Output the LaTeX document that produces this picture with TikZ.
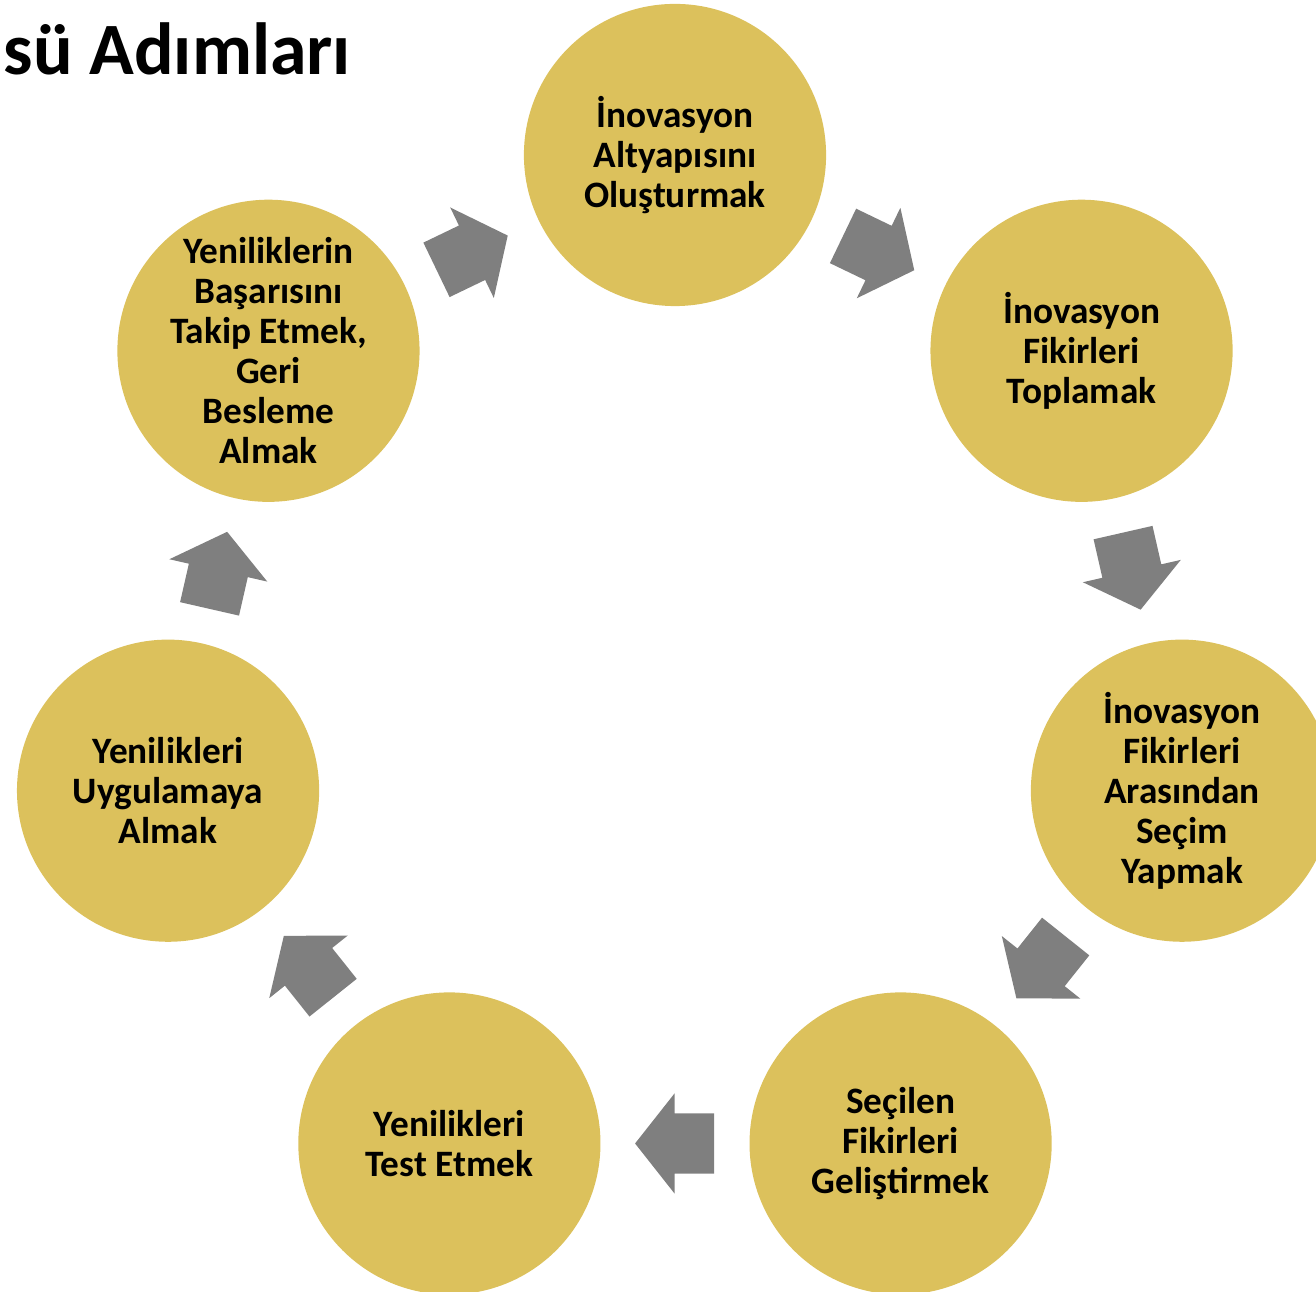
\documentclass[tikz,border=0pt]{standalone}
\usepackage{fontspec}
\setmainfont{Carlito}
\usetikzlibrary{shapes.arrows,calc}
\definecolor{stepgold}{HTML}{DCC15C}
\definecolor{arrowgray}{HTML}{7F7F7F}
\begin{document}
\begin{tikzpicture}[x=0.01cm,y=0.01cm,
		stepcircle/.style={circle,fill=stepgold,minimum size=3.02cm,inner sep=0pt,align=center,font=\bfseries\fontsize{10.6}{11.4}\selectfont},
		steparrow/.style={single arrow,fill=arrowgray,minimum height=0.79cm,inner xsep=0pt,inner ysep=0.295cm,single arrow head extend=0.2cm,single arrow tip angle=103.5}]
		\clip (-675,-617) rectangle (641,675);
		\node[anchor=base west,inner sep=0pt,font=\bfseries\fontsize{21}{25}\selectfont] (title) at (-672,600) {sü Adımları};
		\foreach \txt[count=\i] in {{İnovasyon\\Altyapısını\\Oluşturmak}, {İnovasyon\\Fikirleri\\Toplamak}, {İnovasyon\\Fikirleri\\Arasından\\Seçim\\Yapmak}, {Seçilen\\Fikirleri\\Geliştirmek}, {Yenilikleri\\Test Etmek}, {Yenilikleri\\Uygulamaya\\Almak}, {Yeniliklerin\\Başarısını\\Takip Etmek,\\Geri\\Besleme\\Almak}}{
		\node[stepcircle] (s-\i) at ({90-(\i-1)*360/7}:520) {\txt};
		}
		\foreach \i[evaluate=\i as \j using {int(mod(\i,7)+1)}] in {1,...,7}{
		\node[steparrow,rotate={-(\i-1)*360/7-180/7},xshift=-0.115cm] (a-\i) at ($(s-\i)!0.5!(s-\j)$) {};
		}
		\end{tikzpicture}
\end{document}
